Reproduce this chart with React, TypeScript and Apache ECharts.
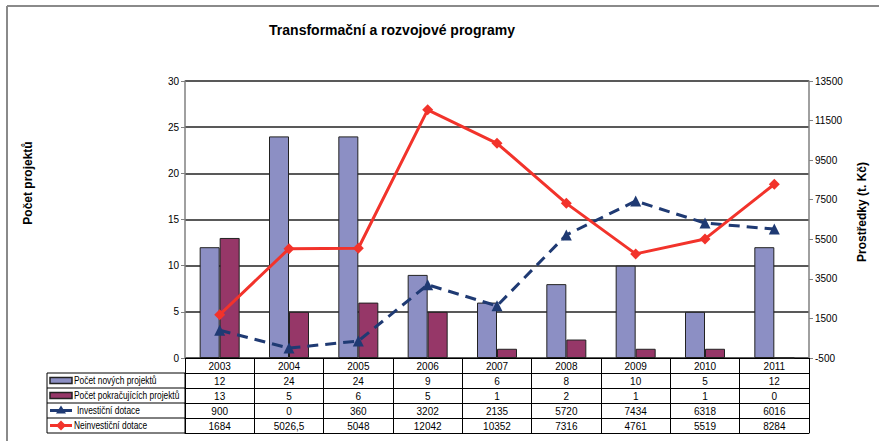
import React, { useEffect, useRef } from "react";
import * as echarts from "echarts";

const years = ["2003", "2004", "2005", "2006", "2007", "2008", "2009", "2010", "2011"];
const newProjects = [12, 24, 24, 9, 6, 8, 10, 5, 12];
const contProjects = [13, 5, 6, 5, 1, 2, 1, 1, 0];
const investDot = [900, 0, 360, 3202, 2135, 5720, 7434, 6318, 6016];
const noninvestDot = [1684, 5026.5, 5048, 12042, 10352, 7316, 4761, 5519, 8284];

const seriesNames = [
  "Počet nových projektů",
  "Počet pokračujících projektů",
  "Investiční dotace",
  "Neinvestiční dotace",
];
const colors = ["#8C8FC4", "#963768", "#1F3A73", "#F2332B"];

const FONT = "'Liberation Sans', Arial, sans-serif";

const fmt = (v: number) => String(v).replace(".", ",");

export default function App() {
  const ref = useRef<HTMLDivElement>(null);
  useEffect(() => {
    if (!ref.current) return;
    const chart = echarts.init(ref.current, null, { renderer: "svg" });

    const W = 879;
    const gridLeft = 185;
    const gridRight = 70;
    const gridTop = 81;
    const gridBottom = 83;
    const plotBottom = 441 - gridBottom;
    const rowH = 15;
    const tableLeft = 47;

    const rows = [newProjects, contProjects, investDot, noninvestDot];

    const baseX = {
      type: "category",
      gridIndex: 0,
      position: "bottom",
      data: years,
      axisLine: { show: true, onZero: false, lineStyle: { color: "#000", width: 1 } },
      axisTick: { show: true, length: rowH, interval: 0, alignWithLabel: false, lineStyle: { color: "#000", width: 1 } },
      axisLabel: { show: true, interval: 0, fontSize: 10, color: "#000", margin: 3, fontFamily: FONT },
      splitLine: { show: false },
    };

    const xAxes: any[] = [{ ...baseX, offset: 0 }];
    rows.forEach((r, i) => {
      xAxes.push({ ...baseX, offset: rowH * (i + 1), data: r.map(fmt) });
    });
    xAxes.push({
      ...baseX,
      offset: rowH * 5,
      axisTick: { show: false },
      axisLabel: { show: false },
    });

    const graphics: any[] = [];
    // frame
    graphics.push({ type: "line", shape: { x1: 7, y1: 6, x2: W, y2: 6 }, style: { stroke: "#8a8a8a", lineWidth: 2 } });
    graphics.push({ type: "line", shape: { x1: 7, y1: 6, x2: 7, y2: 441 }, style: { stroke: "#8a8a8a", lineWidth: 2 } });
    // title
    graphics.push({
      type: "text",
      x: 392,
      y: 30,
      style: {
        text: "Transformační a rozvojové programy",
        fontSize: 14,
        fontWeight: "bold",
        fontFamily: FONT,
        fill: "#000",
        align: "center",
        verticalAlign: "middle",
      },
    });
    // axis titles
    graphics.push({
      type: "text",
      x: 28,
      y: 183,
      rotation: Math.PI / 2,
      style: {
        text: "Počet projektů",
        fontSize: 12,
        fontWeight: "bold",
        fontFamily: FONT,
        fill: "#000",
        align: "center",
        verticalAlign: "middle",
      },
    });
    graphics.push({
      type: "text",
      x: 862,
      y: 212,
      rotation: Math.PI / 2,
      style: {
        text: "Prostředky (t. Kč)",
        fontSize: 12,
        fontWeight: "bold",
        fontFamily: FONT,
        fill: "#000",
        align: "center",
        verticalAlign: "middle",
      },
    });
    // legend column of table
    const tTop = plotBottom + rowH;
    graphics.push({
      type: "rect",
      shape: { x: tableLeft, y: tTop, width: gridLeft - tableLeft, height: rowH * 4 },
      style: { fill: "none", stroke: "#000", lineWidth: 1 },
    });
    for (let i = 1; i < 4; i++) {
      graphics.push({
        type: "line",
        shape: { x1: tableLeft, y1: tTop + rowH * i, x2: gridLeft, y2: tTop + rowH * i },
        style: { stroke: "#000", lineWidth: 1 },
      });
    }
    seriesNames.forEach((name, i) => {
      const cy = tTop + rowH * i + rowH / 2;
      if (i < 2) {
        graphics.push({
          type: "rect",
          shape: { x: 50, y: cy - 3, width: 22, height: 6 },
          style: { fill: colors[i], stroke: "#222", lineWidth: 1.5 },
        });
      } else {
        graphics.push({
          type: "line",
          shape: { x1: 50, y1: cy, x2: 72, y2: cy },
          style: { stroke: colors[i], lineWidth: 3 },
        });
        if (i === 2) {
          graphics.push({
            type: "polygon",
            shape: { points: [[61, cy - 5], [66, cy + 3], [56, cy + 3]] },
            style: { fill: colors[i] },
          });
        } else {
          graphics.push({
            type: "polygon",
            shape: { points: [[61, cy - 5], [66, cy], [61, cy + 5], [56, cy]] },
            style: { fill: colors[i] },
          });
        }
      }
      graphics.push({
        type: "text",
        x: i === 2 ? 77 : 74,
        y: cy + 0.5,
        scaleX: 0.84,
        style: {
          text: name,
          fontSize: 10,
          fontFamily: FONT,
          fill: "#000",
          align: "left",
          verticalAlign: "middle",
        },
      });
    });

    chart.setOption({
      animation: false,
      backgroundColor: "#fff",
      textStyle: { fontFamily: FONT },
      grid: { left: gridLeft, right: gridRight, top: gridTop, bottom: gridBottom, containLabel: false },
      xAxis: xAxes,
      yAxis: [
        {
          type: "value",
          position: "left",
          min: 0,
          max: 30,
          interval: 5,
          axisLine: { show: true, lineStyle: { color: "#808080", width: 1.5 } },
          axisTick: { show: true, length: 4, lineStyle: { color: "#808080" } },
          axisLabel: { fontSize: 10, color: "#000", margin: 6, fontFamily: FONT },
          splitLine: { show: true, lineStyle: { color: "#222", width: 1.5 } },
        },
        {
          type: "value",
          position: "right",
          min: -500,
          max: 13500,
          interval: 2000,
          axisLine: { show: true, lineStyle: { color: "#808080", width: 1.5 } },
          axisTick: { show: true, length: 4, lineStyle: { color: "#808080" } },
          axisLabel: {
            fontSize: 10,
            color: "#000",
            margin: 6,
            fontFamily: FONT,
            formatter: (v: number) => String(v),
          },
          splitLine: { show: false },
        },
      ],
      series: [
        {
          name: seriesNames[0],
          type: "bar",
          xAxisIndex: 0,
          yAxisIndex: 0,
          data: newProjects,
          barWidth: 20,
          barGap: "0%",
          itemStyle: { color: colors[0], borderColor: "#222", borderWidth: 1 },
        },
        {
          name: seriesNames[1],
          type: "bar",
          xAxisIndex: 0,
          yAxisIndex: 0,
          data: contProjects,
          barWidth: 20,
          barGap: "0%",
          itemStyle: { color: colors[1], borderColor: "#222", borderWidth: 1 },
        },
        {
          name: seriesNames[2],
          type: "line",
          xAxisIndex: 0,
          yAxisIndex: 1,
          data: investDot,
          symbol: "triangle",
          symbolSize: 11,
          itemStyle: { color: colors[2] },
          lineStyle: { color: colors[2], width: 3, type: [11, 7] },
          z: 3,
        },
        {
          name: seriesNames[3],
          type: "line",
          xAxisIndex: 0,
          yAxisIndex: 1,
          data: noninvestDot,
          symbol: "diamond",
          symbolSize: 11,
          itemStyle: { color: colors[3] },
          lineStyle: { color: colors[3], width: 3 },
          z: 4,
        },
      ],
      graphic: graphics,
    });

    return () => chart.dispose();
  }, []);

  return (
    <div
      ref={ref}
      style={{ position: "fixed", left: 0, top: 0, width: 879, height: 441, background: "#fff" }}
    />
  );
}
